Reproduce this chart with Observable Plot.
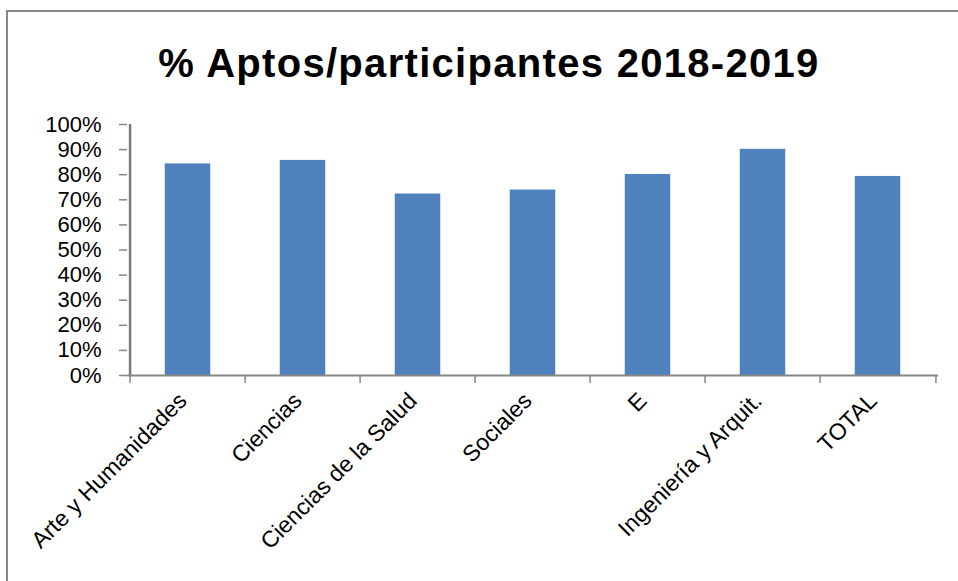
<!DOCTYPE html>
<html>
<head>
<meta charset="utf-8">
<script src="https://cdn.jsdelivr.net/npm/d3@7"></script>
<script src="https://cdn.jsdelivr.net/npm/@observablehq/plot@0.6"></script>
<style>
  html, body { margin: 0; padding: 0; background: #ffffff; }
  #wrap { position: relative; width: 958px; height: 581px; overflow: hidden; background: #ffffff; }
  #frame { position: absolute; left: 6px; top: 10px; width: 1000px; height: 700px; border: 2px solid #878787; box-sizing: border-box; }
  #title { position: absolute; left: 0; top: 43px; width: 978px; text-align: center;
           font-family: "Liberation Sans", Arial, sans-serif; font-weight: bold; font-size: 40px;
           line-height: 40px; letter-spacing: 1.3px; color: #000; white-space: nowrap; }
  #chart { position: absolute; left: 0; top: 0; }
</style>
</head>
<body>
<div id="wrap">
  <div id="frame"></div>
  <div id="title">% Aptos/participantes 2018-2019</div>
  <div id="chart"></div>
</div>
<script>
const categories = ["Arte y Humanidades", "Ciencias", "Ciencias de la Salud", "Sociales", "E", "Ingeniería y Arquit.", "TOTAL"];
const values = [0.843, 0.857, 0.723, 0.739, 0.801, 0.901, 0.793];
const yTicks = [0, 0.1, 0.2, 0.3, 0.4, 0.5, 0.6, 0.7, 0.8, 0.9, 1.0];

const data = categories.map((c, i) => ({category: c, value: values[i]}));

const W = 958, H = 581;
const mL = 127, mR = 20, mT = 124, mB = 206;
const step = (W - mL - mR) / categories.length;
const barInset = step * 0.3;
const axisColor = "#868686";

const chart = Plot.plot({
  width: W,
  height: H,
  marginLeft: mL,
  marginRight: mR,
  marginTop: mT,
  marginBottom: mB,
  style: {fontFamily: "'Liberation Sans', Arial, sans-serif", fontSize: "22px", color: "#000", background: "transparent", overflow: "visible"},
  x: {domain: categories, padding: 0, axis: null, label: null},
  y: {domain: [0, 1], axis: null, label: null},
  marks: [
    Plot.barY(data, {x: "category", y: "value", fill: "#4F81BD", insetLeft: barInset, insetRight: barInset}),
    Plot.ruleY([0], {stroke: axisColor, strokeWidth: 2}),
    Plot.axisY({ticks: yTicks, tickFormat: d3.format(".0%"), tickSize: 8, tickPadding: 18, stroke: axisColor, strokeWidth: 1.5, fill: "#000", fontSize: 22, label: null}),
    Plot.axisX({ticks: categories, tickSize: 8, tickFormat: () => "", dx: -step / 2, stroke: axisColor, strokeWidth: 1.5, label: null}),
    Plot.axisX({ticks: [categories[categories.length - 1]], tickSize: 8, tickFormat: () => "", dx: step / 2, stroke: axisColor, strokeWidth: 1.5, label: null}),
    Plot.axisX({ticks: categories, tickSize: 0, tickPadding: 21.5, tickRotate: -45, dx: -5, fill: "#000", fontSize: 23, label: null}),
    Plot.ruleX(data.slice(0, 1), {x: "category", dx: -step / 2, stroke: "#7a7a7a", strokeWidth: 2.5})
  ]
});
document.getElementById("chart").appendChild(chart);
</script>
</body>
</html>
